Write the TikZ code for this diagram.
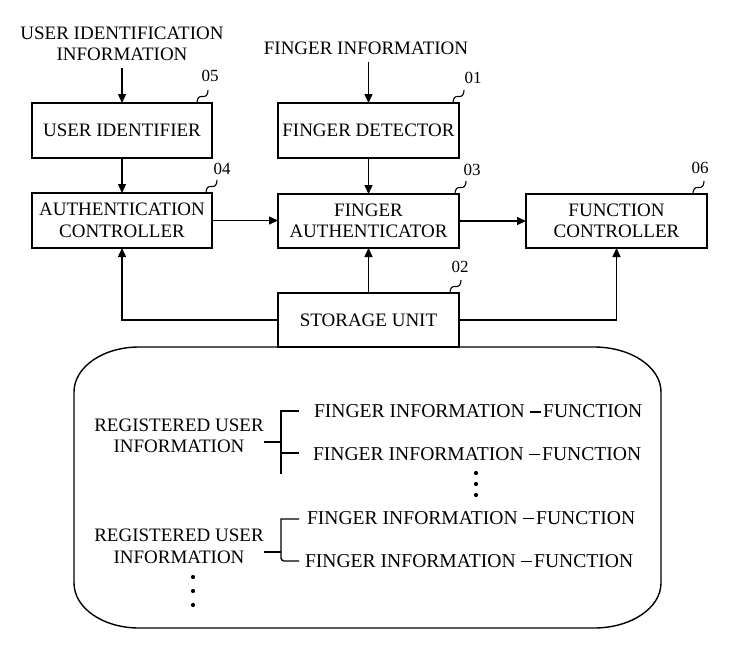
\documentclass[tikz,border=0pt]{standalone}
\usepackage{fontspec}
\setmainfont{Liberation Serif}
\usetikzlibrary{arrows.meta}
\newcommand\dsh{\rule[5pt]{11pt}{1.6pt}}
\begin{document}
\begin{tikzpicture}[x=1pt,y=-1pt,
  every node/.style={font=\fontsize{19}{21.5}\selectfont, inner sep=0pt, outer sep=0pt},
  box/.style={draw, line width=1.4pt, minimum height=55pt, align=center},
  arr/.style={-{Triangle[length=9pt,width=8pt]}, line width=1.4pt},
  ln/.style={line width=1.4pt},
  tag/.style={font=\fontsize{17}{17}\selectfont},
  inner/.style={font=\fontsize{19.6}{21.5}\selectfont, anchor=west},
  squig/.pic={\draw[line width=1.1pt] (0,0) .. controls (0,-5) and (2,-7) .. (5.5,-6.5) .. controls (9,-6) and (11,-8) .. (11,-13);}]
\useasboundingbox (0,0) rectangle (739,670);
% boxes
\node[box, minimum width=180pt] (uid) at (122,130.5) {USER IDENTIFIER};
\node[box, minimum width=181pt] (fd) at (368.5,130.5) {FINGER DETECTOR};
\node[box, minimum width=180pt] (ac) at (122,220.5) {AUTHENTICATION\\CONTROLLER};
\node[box, minimum width=181pt, minimum height=54pt] (fa) at (368.5,221) {FINGER\\AUTHENTICATOR};
\node[box, minimum width=181pt, minimum height=54pt] (fc) at (616.5,221) {FUNCTION\\CONTROLLER};
\node[box, minimum width=181pt, minimum height=54pt] (su) at (368.5,320) {STORAGE UNIT};
% inputs
\node[align=center] (uit) at (122,44) {USER IDENTIFICATION\\INFORMATION};
\node (fit) at (366,48) {FINGER INFORMATION};
% arrows
\draw[arr, shorten <=7pt] (uit) -- (uid);
\draw[arr, shorten <=7.5pt] (fit.south -| fd.north) -- (fd);
\draw[arr] (uid) -- (ac);
\draw[arr] (fd) -- (fa);
\draw[arr] (ac) -- (ac -| fa.west);
\draw[arr] (fa) -- (fa -| fc.west);
\draw[arr] (su) -- (fa);
\draw[arr] (su.west) -| (ac.south);
\draw[arr] (su.east) -| (fc.south);
% reference numerals
\pic at ([xshift=-15pt]uid.north east) {squig};
\pic at ([xshift=-6pt]ac.north east) {squig};
\pic at ([xshift=-6pt]fd.north east) {squig};
\pic at ([xshift=-4pt]fa.north east) {squig};
\pic at ([xshift=-14pt]fc.north east) {squig};
\pic at ([xshift=-9pt]su.north east) {squig};
\node[tag] (n05) at (210,76) {05};
\node[tag] (n04) at (222,169) {04};
\node[tag] (n01) at (473,78) {01};
\node[tag] (n03) at (472,170) {03};
\node[tag] (n06) at (700,168) {06};
\node[tag] (n02) at (460,267) {02};
% storage content
\draw[ln] (139,347) -- (594,347) .. controls (631,347) and (661,367) .. (661,392) -- (661,583)
  .. controls (661,608) and (631,628) .. (594,628) -- (139,628)
  .. controls (103,628) and (74,608) .. (74,583) -- (74,392)
  .. controls (74,367) and (103,347) .. (139,347) -- cycle;
\node[align=center] (r1) at (179,436) {REGISTERED USER\\INFORMATION};
\node[align=center] (r2) at (179,546.5) {REGISTERED USER\\INFORMATION};
\node[inner] (f1) at (314,411.5) {FINGER INFORMATION \dsh\kern2.5pt FUNCTION};
\node[inner] (f2) at (313,454) {FINGER INFORMATION \dsh\kern2.5pt FUNCTION};
\node[inner] (f3) at (307,518) {FINGER INFORMATION \dsh\kern2.5pt FUNCTION};
\node[inner] (f4) at (305,561) {FINGER INFORMATION \dsh\kern2.5pt FUNCTION};
% brackets
\draw[ln] (264,442) -- (281,442);
\draw[ln] (299,411) -- (281,411) -- (281,474);
\draw[ln] (281,453) -- (299,453);
\draw[ln] (264,552) -- (281,552);
\draw[ln] (299,519) -- (281,519) [rounded corners=3pt] -- (281,561) -- (299,561);
% dots
\foreach \yy in {473,484,495} \fill (476,\yy) circle (2.1pt);
\foreach \yy in {577,591,605} \fill (193,\yy) circle (2.1pt);
\end{tikzpicture}
\end{document}
